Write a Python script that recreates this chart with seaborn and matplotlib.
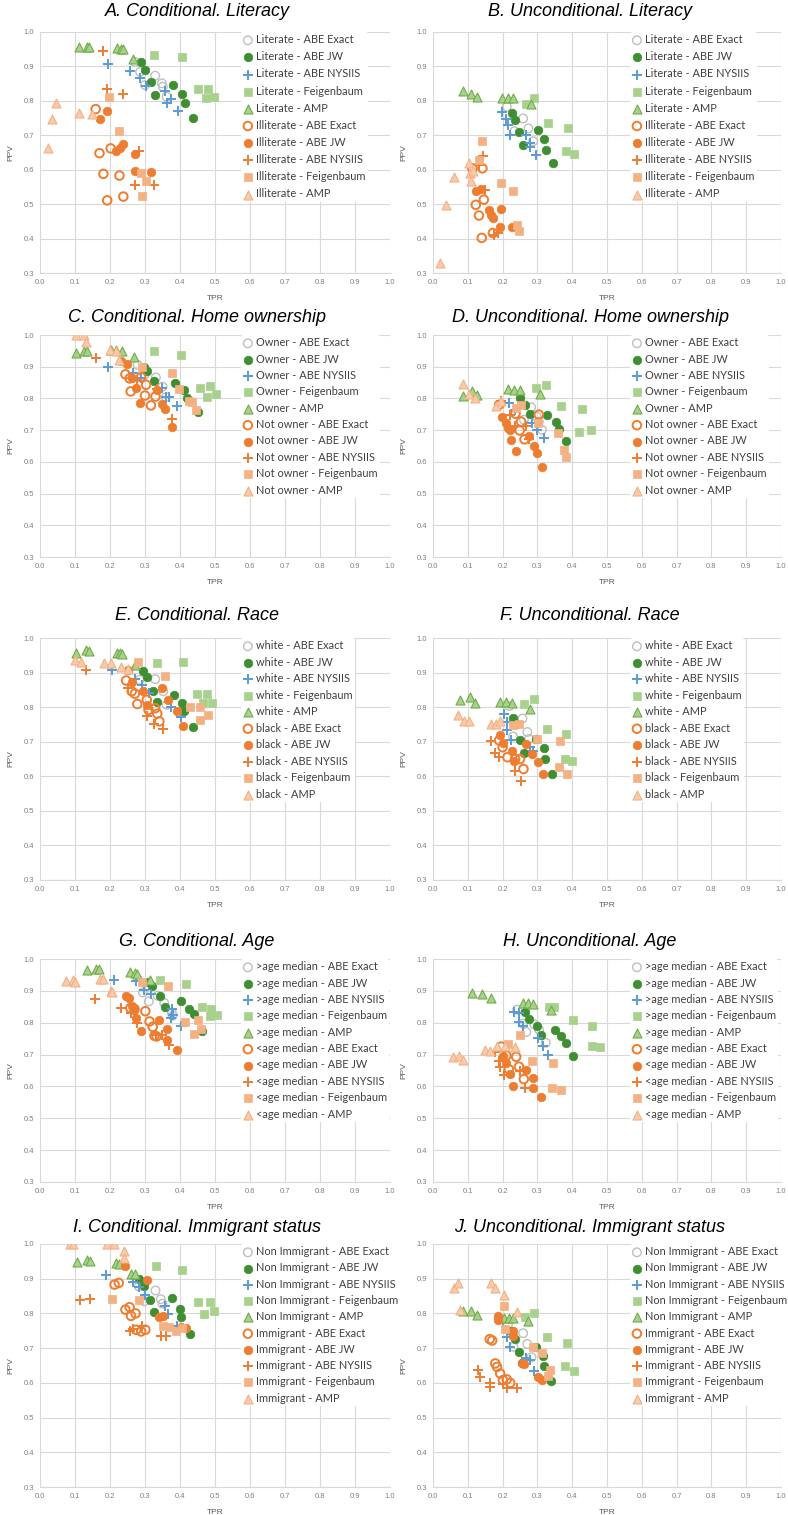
import matplotlib
matplotlib.use("Agg")
import matplotlib.pyplot as plt
from matplotlib.ticker import FormatStrFormatter
import seaborn as sns
import numpy as np

# ---------------- data ----------------
TITLES = ["A. Conditional. Literacy", "B. Unconditional. Literacy",
          "C. Conditional. Home ownership", "D. Unconditional. Home ownership",
          "E. Conditional. Race", "F. Unconditional. Race",
          "G. Conditional. Age", "H. Unconditional. Age",
          "I. Conditional. Immigrant status", "J. Unconditional. Immigrant status"]
GROUPS = [("Literate", "Illiterate"), ("Literate", "Illiterate"),
          ("Owner", "Not owner"), ("Owner", "Not owner"),
          ("white", "black"), ("white", "black"),
          (">age median", "<age median"), (">age median", "<age median"),
          ("Non Immigrant", "Immigrant"), ("Non Immigrant", "Immigrant")]
METHODS = ["ABE Exact", "ABE JW", "ABE NYSIIS", "Feigenbaum", "AMP"]

# each panel: 10 series (group1 x 5 methods, group2 x 5 methods), points (TPR, PPV)
A_PTS = [
    [(0.271,0.913),(0.286,0.884),(0.300,0.846),(0.329,0.873),(0.348,0.851),(0.351,0.841),(0.362,0.812)],
    [(0.288,0.913),(0.300,0.889),(0.316,0.855),(0.329,0.817),(0.381,0.846),(0.405,0.821),(0.414,0.794),(0.436,0.749)],
    [(0.195,0.906),(0.257,0.887),(0.286,0.865),(0.303,0.844),(0.357,0.828),(0.362,0.794),(0.374,0.805),(0.393,0.770)],
    [(0.327,0.932),(0.405,0.928),(0.450,0.834),(0.481,0.834),(0.474,0.807),(0.498,0.812)],
    [(0.110,0.957),(0.135,0.957),(0.141,0.957),(0.219,0.954),(0.230,0.952),(0.236,0.950),(0.267,0.923)],
    [(0.159,0.776),(0.170,0.648),(0.181,0.588),(0.202,0.662),(0.227,0.583),(0.192,0.511),(0.238,0.522)],
    [(0.171,0.747),(0.192,0.770),(0.217,0.653),(0.229,0.664),(0.238,0.675),(0.271,0.645),(0.271,0.595),(0.317,0.592)],
    [(0.181,0.945),(0.190,0.834),(0.236,0.819),(0.284,0.653),(0.271,0.556),(0.327,0.556)],
    [(0.198,0.810),(0.227,0.712),(0.288,0.590),(0.303,0.568),(0.290,0.525)],
    [(0.046,0.795),(0.033,0.747),(0.024,0.662),(0.148,0.761),(0.112,0.765)],
]
B_PTS = [
    [(0.212,0.783),(0.259,0.749),(0.274,0.720),(0.234,0.712),(0.288,0.683)],
    [(0.226,0.766),(0.236,0.744),(0.248,0.710),(0.302,0.715),(0.259,0.672),(0.318,0.688),(0.325,0.657),(0.344,0.619)],
    [(0.198,0.768),(0.210,0.747),(0.215,0.730),(0.222,0.701),(0.267,0.701),(0.278,0.677),(0.278,0.667),(0.295,0.643)],
    [(0.267,0.792),(0.290,0.809),(0.330,0.735),(0.387,0.720),(0.382,0.653),(0.406,0.645)],
    [(0.085,0.828),(0.108,0.821),(0.125,0.812),(0.198,0.809),(0.215,0.809),(0.231,0.807),(0.281,0.790)],
    [(0.113,0.604),(0.142,0.604),(0.123,0.498),(0.146,0.513),(0.132,0.467),(0.140,0.402),(0.172,0.416)],
    [(0.123,0.537),(0.139,0.544),(0.160,0.484),(0.167,0.469),(0.172,0.461),(0.195,0.486),(0.193,0.433),(0.226,0.433)],
    [(0.144,0.641),(0.132,0.614),(0.148,0.542),(0.175,0.411),(0.186,0.416)],
    [(0.142,0.683),(0.132,0.628),(0.195,0.561),(0.229,0.537),(0.241,0.440),(0.248,0.423)],
    [(0.019,0.329),(0.036,0.498),(0.059,0.580),(0.104,0.619),(0.107,0.590),(0.110,0.566),(0.116,0.595)],
]
C_PTS = [
    [(0.279,0.906),(0.298,0.874),(0.331,0.866),(0.350,0.837),(0.360,0.804)],
    [(0.298,0.900),(0.306,0.885),(0.327,0.855),(0.386,0.848),(0.412,0.827),(0.421,0.801),(0.450,0.757)],
    [(0.194,0.900),(0.265,0.879),(0.289,0.864),(0.348,0.834),(0.360,0.803),(0.369,0.804),(0.391,0.776)],
    [(0.327,0.948),(0.402,0.937),(0.457,0.832),(0.485,0.839),(0.478,0.804),(0.502,0.814)],
    [(0.102,0.942),(0.126,0.949),(0.134,0.951),(0.204,0.953),(0.218,0.953),(0.233,0.951),(0.268,0.930)],
    [(0.244,0.876),(0.256,0.863),(0.259,0.822),(0.289,0.867),(0.303,0.843),(0.300,0.809),(0.317,0.778),(0.330,0.806)],
    [(0.230,0.918),(0.249,0.908),(0.263,0.864),(0.273,0.834),(0.287,0.787),(0.334,0.827),(0.348,0.782),(0.357,0.767),(0.376,0.711)],
    [(0.159,0.929),(0.265,0.864),(0.276,0.858),(0.334,0.830),(0.377,0.734)],
    [(0.290,0.900),(0.376,0.879),(0.398,0.829),(0.426,0.792),(0.434,0.790),(0.447,0.764)],
    [(0.102,1.000),(0.125,1.000),(0.131,0.979),(0.199,0.953),(0.218,0.950),(0.225,0.921)],
]
D_PTS = [
    [(0.282,0.772),(0.298,0.743),(0.304,0.727),(0.261,0.733),(0.313,0.701)],
    [(0.250,0.802),(0.263,0.778),(0.280,0.752),(0.329,0.749),(0.353,0.727),(0.362,0.703),(0.383,0.667)],
    [(0.218,0.786),(0.237,0.765),(0.285,0.722),(0.298,0.701),(0.320,0.674)],
    [(0.296,0.834),(0.326,0.841),(0.367,0.775),(0.429,0.767),(0.419,0.694),(0.453,0.699)],
    [(0.085,0.809),(0.111,0.823),(0.125,0.812),(0.215,0.830),(0.234,0.826),(0.250,0.828),(0.308,0.814)],
    [(0.190,0.780),(0.237,0.752),(0.253,0.727),(0.249,0.699),(0.263,0.671),(0.304,0.749)],
    [(0.199,0.743),(0.209,0.722),(0.216,0.706),(0.221,0.701),(0.225,0.669),(0.239,0.635),(0.275,0.683),(0.291,0.650),(0.298,0.627),(0.313,0.584)],
    [(0.196,0.791),(0.220,0.749),(0.237,0.714),(0.268,0.712),(0.277,0.671)],
    [(0.239,0.770),(0.253,0.780),(0.301,0.722),(0.360,0.692),(0.377,0.637),(0.383,0.616)],
    [(0.085,0.847),(0.104,0.815),(0.120,0.802),(0.182,0.777),(0.194,0.791)],
]
E_PTS = [
    [(0.284,0.879),(0.329,0.881),(0.352,0.846),(0.362,0.807)],
    [(0.293,0.904),(0.305,0.887),(0.322,0.847),(0.333,0.814),(0.383,0.836),(0.405,0.812),(0.410,0.788),(0.436,0.742)],
    [(0.205,0.906),(0.271,0.881),(0.290,0.865),(0.312,0.841),(0.374,0.800),(0.403,0.771)],
    [(0.333,0.928),(0.408,0.931),(0.448,0.838),(0.476,0.839),(0.467,0.812),(0.490,0.812)],
    [(0.103,0.957),(0.131,0.964),(0.141,0.961),(0.219,0.957),(0.229,0.957),(0.233,0.954),(0.270,0.921)],
    [(0.246,0.877),(0.262,0.846),(0.271,0.839),(0.278,0.809),(0.305,0.821),(0.310,0.792),(0.329,0.797),(0.335,0.781),(0.341,0.759)],
    [(0.250,0.906),(0.263,0.873),(0.293,0.846),(0.307,0.807),(0.348,0.855),(0.367,0.821),(0.390,0.788),(0.408,0.746)],
    [(0.131,0.908),(0.252,0.855),(0.305,0.773),(0.326,0.752),(0.350,0.736)],
    [(0.279,0.932),(0.357,0.891),(0.429,0.800),(0.457,0.800),(0.457,0.763),(0.481,0.778)],
    [(0.100,0.935),(0.117,0.930),(0.184,0.928),(0.202,0.928),(0.231,0.916),(0.252,0.910)],
]
F_PTS = [
    [(0.219,0.803),(0.257,0.767),(0.271,0.728),(0.230,0.715),(0.276,0.708)],
    [(0.230,0.770),(0.238,0.752),(0.250,0.704),(0.297,0.708),(0.262,0.667),(0.319,0.681),(0.322,0.650),(0.341,0.606)],
    [(0.203,0.781),(0.212,0.757),(0.214,0.733),(0.224,0.706),(0.279,0.686),(0.286,0.674)],
    [(0.262,0.808),(0.289,0.823),(0.327,0.738),(0.381,0.721),(0.378,0.650),(0.400,0.643)],
    [(0.078,0.820),(0.105,0.828),(0.121,0.812),(0.193,0.815),(0.210,0.815),(0.226,0.812),(0.279,0.796)],
    [(0.190,0.704),(0.200,0.684),(0.214,0.655),(0.236,0.650),(0.250,0.650),(0.260,0.621)],
    [(0.192,0.718),(0.200,0.696),(0.227,0.672),(0.233,0.645),(0.267,0.694),(0.284,0.665),(0.303,0.640),(0.316,0.608)],
    [(0.167,0.702),(0.179,0.667),(0.190,0.655),(0.236,0.616),(0.252,0.587)],
    [(0.229,0.747),(0.248,0.750),(0.300,0.708),(0.365,0.702),(0.362,0.626),(0.384,0.608)],
    [(0.071,0.776),(0.088,0.760),(0.103,0.759),(0.167,0.752),(0.181,0.752),(0.192,0.759)],
]
G_PTS = [
    [(0.294,0.895),(0.311,0.867),(0.336,0.885),(0.355,0.862),(0.377,0.831),(0.379,0.822)],
    [(0.308,0.928),(0.320,0.914),(0.344,0.883),(0.358,0.848),(0.402,0.867),(0.426,0.843),(0.440,0.827),(0.464,0.775)],
    [(0.210,0.935),(0.275,0.930),(0.298,0.904),(0.317,0.890),(0.377,0.843),(0.379,0.825),(0.374,0.815),(0.402,0.791)],
    [(0.343,0.933),(0.417,0.923),(0.462,0.849),(0.488,0.843),(0.485,0.820),(0.507,0.823)],
    [(0.134,0.967),(0.161,0.970),(0.169,0.970),(0.256,0.958),(0.270,0.956),(0.277,0.954),(0.313,0.935)],
    [(0.258,0.846),(0.270,0.843),(0.301,0.836),(0.313,0.804),(0.322,0.787),(0.327,0.759),(0.333,0.757)],
    [(0.246,0.883),(0.254,0.878),(0.263,0.851),(0.268,0.841),(0.275,0.815),(0.289,0.773),(0.341,0.810),(0.363,0.780),(0.364,0.747),(0.390,0.713)],
    [(0.156,0.874),(0.232,0.846),(0.260,0.831),(0.277,0.799),(0.330,0.763),(0.348,0.763),(0.369,0.731)],
    [(0.292,0.927),(0.367,0.916),(0.415,0.801),(0.440,0.766),(0.450,0.810),(0.459,0.781)],
    [(0.073,0.932),(0.095,0.935),(0.100,0.927),(0.170,0.937),(0.180,0.937),(0.204,0.899),(0.207,0.895)],
]
H_PTS = [
    [(0.242,0.841),(0.258,0.797),(0.268,0.771),(0.291,0.795),(0.305,0.778),(0.324,0.737)],
    [(0.265,0.834),(0.277,0.813),(0.298,0.789),(0.310,0.760),(0.350,0.778),(0.369,0.757),(0.383,0.737),(0.403,0.694)],
    [(0.234,0.834),(0.247,0.829),(0.247,0.802),(0.258,0.789),(0.303,0.753),(0.317,0.726),(0.331,0.699)],
    [(0.332,0.850),(0.348,0.848),(0.403,0.808),(0.457,0.789),(0.457,0.728),(0.481,0.723)],
    [(0.113,0.892),(0.142,0.889),(0.168,0.878),(0.258,0.863),(0.272,0.863),(0.288,0.858),(0.339,0.839)],
    [(0.196,0.725),(0.211,0.697),(0.239,0.693),(0.218,0.654),(0.247,0.662),(0.261,0.623)],
    [(0.201,0.697),(0.209,0.675),(0.220,0.638),(0.230,0.601),(0.268,0.651),(0.287,0.626),(0.288,0.596),(0.310,0.567)],
    [(0.177,0.709),(0.190,0.681),(0.192,0.662),(0.203,0.635),(0.249,0.649),(0.263,0.596)],
    [(0.215,0.734),(0.250,0.762),(0.285,0.679),(0.346,0.672),(0.342,0.596),(0.367,0.588)],
    [(0.057,0.693),(0.076,0.697),(0.085,0.683),(0.149,0.715),(0.163,0.710),(0.184,0.728),(0.206,0.728),(0.237,0.725)],
]
I_PTS = [
    [(0.282,0.878),(0.298,0.835),(0.330,0.866),(0.345,0.841),(0.350,0.828)],
    [(0.284,0.900),(0.298,0.878),(0.313,0.840),(0.325,0.804),(0.377,0.844),(0.400,0.813),(0.403,0.789),(0.429,0.741)],
    [(0.189,0.912),(0.265,0.890),(0.284,0.875),(0.301,0.852),(0.358,0.822),(0.367,0.798),(0.390,0.765)],
    [(0.331,0.936),(0.407,0.924),(0.450,0.832),(0.485,0.832),(0.469,0.798),(0.497,0.808)],
    [(0.107,0.948),(0.134,0.953),(0.142,0.950),(0.216,0.945),(0.227,0.943),(0.259,0.914),(0.270,0.914)],
    [(0.213,0.883),(0.225,0.888),(0.244,0.811),(0.256,0.818),(0.260,0.793),(0.273,0.800),(0.275,0.753),(0.289,0.748),(0.301,0.753)],
    [(0.244,0.936),(0.306,0.897),(0.339,0.789),(0.350,0.794),(0.402,0.761),(0.417,0.758)],
    [(0.114,0.838),(0.142,0.841),(0.256,0.748),(0.265,0.755),(0.292,0.763),(0.346,0.736),(0.360,0.736)],
    [(0.206,0.842),(0.282,0.840),(0.350,0.765),(0.369,0.761),(0.388,0.750),(0.405,0.757)],
    [(0.085,1.000),(0.095,1.000),(0.190,1.000),(0.210,1.000),(0.240,0.980),(0.240,0.960)],
]
J_PTS = [
    [(0.215,0.767),(0.259,0.743),(0.271,0.712),(0.231,0.704),(0.283,0.674)],
    [(0.225,0.748),(0.236,0.727),(0.248,0.690),(0.295,0.704),(0.255,0.656),(0.316,0.676),(0.318,0.649),(0.340,0.606)],
    [(0.201,0.774),(0.212,0.731),(0.222,0.704),(0.267,0.671),(0.278,0.666),(0.291,0.635)],
    [(0.264,0.791),(0.291,0.801),(0.327,0.731),(0.384,0.714),(0.380,0.649),(0.406,0.635)],
    [(0.085,0.808),(0.110,0.806),(0.127,0.796),(0.203,0.786),(0.217,0.786),(0.231,0.786),(0.274,0.777)],
    [(0.163,0.726),(0.170,0.722),(0.179,0.656),(0.184,0.646),(0.193,0.627),(0.201,0.608),(0.212,0.610),(0.222,0.600)],
    [(0.186,0.793),(0.186,0.780),(0.231,0.748),(0.231,0.735),(0.255,0.658),(0.262,0.653),(0.302,0.618),(0.314,0.608)],
    [(0.129,0.637),(0.135,0.616),(0.163,0.600),(0.165,0.587),(0.201,0.597),(0.212,0.584),(0.242,0.584)],
    [(0.205,0.822),(0.206,0.756),(0.286,0.704),(0.314,0.685),(0.330,0.620),(0.335,0.637)],
    [(0.061,0.873),(0.071,0.887),(0.078,0.810),(0.167,0.887),(0.179,0.873),(0.203,0.854),(0.242,0.803)],
]
PANEL_PTS = [A_PTS, B_PTS, C_PTS, D_PTS, E_PTS, F_PTS, G_PTS, H_PTS, I_PTS, J_PTS]
X_TICKS = [0.0, 0.1, 0.2, 0.3, 0.4, 0.5, 0.6, 0.7, 0.8, 0.9, 1.0]
Y_TICKS = [0.3, 0.4, 0.5, 0.6, 0.7, 0.8, 0.9, 1.0]

# ---------------- styles ----------------
STYLES = [
    dict(marker='o', face='none', edge='#bfbfbf', s=38, lw=1.0),
    dict(marker='o', face='#3f8f32', edge='#3f8f32', s=38, lw=0.5),
    dict(marker='+', face='#5b9bd5', edge=None, s=50, lw=1.4),
    dict(marker='s', face='#a9d18e', edge='#a9d18e', s=32, lw=0.5),
    dict(marker='^', face='#a9d18e', edge='#70ad47', s=42, lw=0.8),
    dict(marker='o', face='none', edge='#ed7d31', s=38, lw=1.4),
    dict(marker='o', face='#ed7d31', edge='#ed7d31', s=38, lw=0.5),
    dict(marker='+', face='#ed7d31', edge=None, s=50, lw=1.4),
    dict(marker='s', face='#f4b183', edge='#f4b183', s=32, lw=0.5),
    dict(marker='^', face='#f8cbad', edge='#f4b183', s=42, lw=0.8),
]

sns.set_theme(style="white")
plt.rcParams['font.family'] = ['Liberation Sans', 'DejaVu Sans']

W, H = 788, 1515
fig = plt.figure(figsize=(W / 100, H / 100), dpi=100)
COLS = [(40, 390), (433, 781)]
LEG_X = [0.575, 0.567]
ROWS = [(32, 273), (335, 557), (638, 880), (959, 1182), (1244, 1487)]
LEG_SPACING = [0.56, 0.49, 0.50, 0.49, 0.48]
TITLE_Y = [12, 318, 615, 942, 1227]
TITLE_X = [197, 590]

for i in range(10):
    row, col = divmod(i, 2)
    x0, x1 = COLS[col]
    yt, yb = ROWS[row]
    ax = fig.add_axes([x0 / W, 1 - yb / H, (x1 - x0) / W, (yb - yt) / H])
    g1, g2 = GROUPS[i]
    labels = [f"{g1} - {m}" for m in METHODS] + [f"{g2} - {m}" for m in METHODS]
    for k, pts in enumerate(PANEL_PTS[i]):
        st = STYLES[k]
        xs = [p[0] for p in pts]
        ys = [p[1] for p in pts]
        kw = dict(x=xs, y=ys, ax=ax, marker=st['marker'], s=st['s'],
                  linewidth=st['lw'], label=labels[k], zorder=3, legend=False)
        if st['marker'] == '+':
            sns.scatterplot(color=st['face'], **kw)
        else:
            col_f = st['face'] if st['face'] != 'none' else st['edge']
            sns.scatterplot(color=col_f, edgecolor=st['edge'], **kw)
            pc = ax.collections[-1]
            pc.set_facecolor(st['face'])
            pc.set_edgecolor(st['edge'])
    ax.set_xlim(0, 1)
    ax.set_ylim(0.3, 1.0)
    ax.set_xticks(X_TICKS)
    ax.set_yticks(Y_TICKS)
    ax.xaxis.set_major_formatter(FormatStrFormatter('%.1f'))
    ax.yaxis.set_major_formatter(FormatStrFormatter('%.1f'))
    ax.grid(True, color='#d9d9d9', lw=0.8, zorder=0)
    ax.set_axisbelow(True)
    for sp in ['top', 'right', 'left']:
        ax.spines[sp].set_visible(False)
    ax.spines['bottom'].set_color('#d9d9d9')
    ax.spines['bottom'].set_linewidth(0.8)
    ax.tick_params(length=0, labelsize=5.5, colors='#808080', pad=4)
    ax.set_xlabel("TPR", fontsize=6, color='#595959', labelpad=7)
    ax.set_ylabel("PPV", fontsize=6, color='#595959', labelpad=7)
    leg = ax.legend(loc='upper left', bbox_to_anchor=(LEG_X[col], 1.0), frameon=True,
                    facecolor='white', edgecolor='none', framealpha=1.0,
                    prop={'family': ['Lato', 'DejaVu Sans'], 'size': 7.9},
                    labelspacing=LEG_SPACING[row], handlelength=0.8,
                    handletextpad=0.35, borderpad=0.2, borderaxespad=0.0)
    for t in leg.get_texts():
        t.set_color('#404040')
    leg.set_zorder(5)
    fig.text(TITLE_X[col] / W, 1 - TITLE_Y[row] / H, TITLES[i], ha='center',
             va='center', fontsize=13, style='italic', color='black')

fig.savefig("out.png", dpi=100)
